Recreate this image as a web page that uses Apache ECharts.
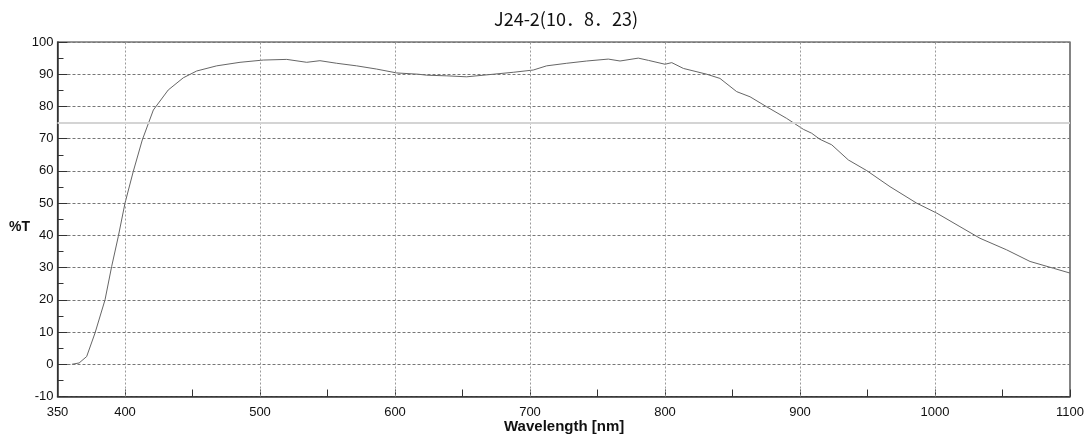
<!DOCTYPE html>
<html>
<head>
<meta charset="utf-8">
<script src="https://cdn.jsdelivr.net/npm/echarts@6/dist/echarts.min.js"></script>
<style>html,body{margin:0;padding:0;background:#fff}#c{width:1087px;height:437px}</style>
</head>
<body>
<div id="c"></div>
<script>
const titleText = 'J24-2(10．8．23)';
const xName = 'Wavelength [nm]';
const yName = '%T';
const wavelength = [350,355,360.7,366,371.6,377.8,385.2,390.1,395,400,406.1,412.8,421,432,443.2,453.1,467.9,485.2,502.4,519.8,534.6,544.4,556.8,571.6,586.4,601.3,617.3,623.5,638.3,653.1,672.8,687.6,702.4,712.3,727.2,742,758,766.7,780.2,787.7,800,805,813.6,830.9,840.7,853.1,863,875.3,890.1,902.5,908.6,914.8,923.5,935.8,949.4,966.7,986.4,1001.3,1018.5,1033.3,1053.1,1070.4,1087.7,1100];
const transmission = [null,null,0,0.4,2.4,9.7,20,30.3,39.6,50,59.8,69.6,78.9,85.1,88.9,91,92.6,93.7,94.4,94.6,93.7,94.2,93.4,92.6,91.6,90.4,90,89.7,89.5,89.2,90,90.6,91.3,92.6,93.4,94.1,94.7,94.1,95,94.3,93.1,93.6,91.8,90,88.7,84.6,83,79.9,76.3,72.9,71.7,69.8,68.1,63.4,60.1,55.1,50,46.9,42.7,39.1,35.5,31.9,29.8,28.3];
const xTicks = [350,400,500,600,700,800,900,1000,1100];
const xGridLines = [400,500,600,700,800,900,1000];
const refLevel = 75;

const chart = echarts.init(document.getElementById('c'), null, {renderer:'canvas'});
const data = wavelength.map((w,i)=>[w, transmission[i]]);
const vLines = xGridLines.map(v=>({xAxis:v, lineStyle:{color:'#9a9a9a', type:[2,2], width:1}}));
vLines.push({yAxis:refLevel, lineStyle:{color:'#d4d4d4', type:'solid', width:2}});
chart.setOption({
  backgroundColor:'#fff',
  animation:false,
  title:{text:titleText, left:561, textAlign:'center', top:5,
    textStyle:{fontFamily:'Noto Sans CJK JP', fontSize:18, fontWeight:'normal', color:'#111'}},
  grid:{left:57.5, right:17, top:42, bottom:40.5, show:true, borderColor:'#333', borderWidth:1.2},
  xAxis:{type:'value', min:350, max:1100, interval:50,
    axisLine:{show:true, onZero:false, lineStyle:{color:'#333', width:1.5}},
    axisTick:{show:true, inside:true, length:7, lineStyle:{color:'#333'}},
    axisLabel:{margin:9, fontFamily:'Liberation Sans', fontSize:13, color:'#111',
      formatter:v=>xTicks.includes(v)?String(v):''},
    splitLine:{show:false}},
  yAxis:{type:'value', min:-10, max:100, interval:10,
    axisLine:{show:true, onZero:false, lineStyle:{color:'#333', width:1.5}},
    axisTick:{show:true, inside:true, length:10, lineStyle:{color:'#333'}},
    minorTick:{show:true, splitNumber:2, length:6, lineStyle:{color:'#333'}},
    axisLabel:{margin:4, fontFamily:'Liberation Sans', fontSize:13, color:'#111'},
    splitLine:{show:true, lineStyle:{color:'#777', type:[3,2], width:1}}},
  graphic:[
    {type:'text', left:9, top:220, style:{text:yName, font:'bold 14px Liberation Sans', fill:'#111'}},
    {type:'text', left:504, top:419, style:{text:xName, font:'bold 15px Liberation Sans', fill:'#111'}}
  ],
  series:[{type:'line', data:data, showSymbol:false, smooth:false,
    lineStyle:{color:'#666', width:1},
    markLine:{silent:true, symbol:'none', label:{show:false}, data:vLines}}]
});
</script>
</body>
</html>
